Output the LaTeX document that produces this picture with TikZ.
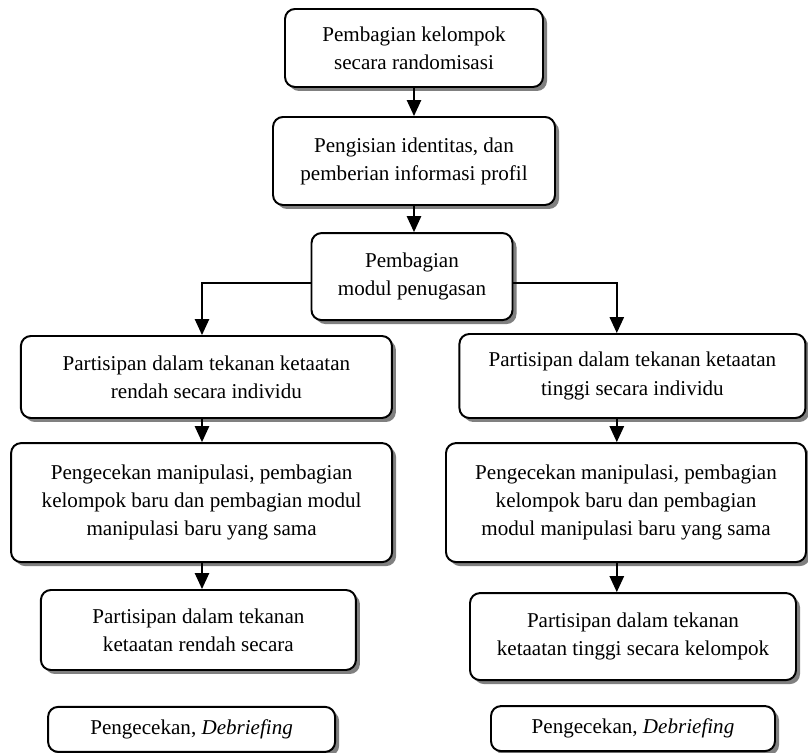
\documentclass[tikz,border=0pt]{standalone}
\usepackage{fontspec}
\setmainfont{Liberation Serif}
\usetikzlibrary{arrows.meta,shadows}
\begin{document}
\begin{tikzpicture}
	\tikzset{kotak/.style={rectangle, rounded corners=0.25cm, line width=1.4pt, draw=black, fill=white, align=center, font=\fontsize{15}{20}\selectfont, drop shadow={shadow xshift=0.1cm, shadow yshift=-0.1cm, fill=black!50, opacity=1}}}
	\tikzset{panah/.style={line width=1pt, -{Triangle[width=0.36cm,length=0.4cm]}}}

	\useasboundingbox (0, 0) rectangle (20.2, 18.825);
	\coordinate (kiri) at (5.05, 0);
	\coordinate (kanan) at (15.42, 0);

	\node[kotak, minimum width=6.45cm, minimum height=1.95cm] at (10.35, 17.625) (a) {Pembagian kelompok\\secara randomisasi};
	\node[kotak, minimum width=7.05cm, minimum height=2.2cm] at (10.35, 14.8) (b) {Pengisian identitas, dan\\pemberian informasi profil};
	\node[kotak, minimum width=5.025cm, minimum height=2.175cm] at (10.3, 11.91) (c) {Pembagian\\modul penugasan};
	\node[kotak, minimum width=9.275cm, minimum height=2.05cm] at (5.16, 9.4) (d) {Partisipan dalam tekanan ketaatan\\rendah secara individu};
	\node[kotak, minimum width=8.65cm, minimum height=2.1cm] at (15.81, 9.425) (e) {Partisipan dalam tekanan ketaatan\\tinggi secara individu};
	\node[kotak, minimum width=9.525cm, minimum height=2.975cm] at (5.04, 6.26) (f) {Pengecekan manipulasi, pembagian\\kelompok baru dan pembagian modul\\manipulasi baru yang sama};
	\node[kotak, minimum width=9.0cm, minimum height=2.975cm] at (15.65, 6.26) (g) {Pengecekan manipulasi, pembagian\\kelompok baru dan pembagian\\modul manipulasi baru yang sama};
	\node[kotak, minimum width=7.875cm, minimum height=2.0cm] at (4.96, 3.075) (h) {Partisipan dalam tekanan\\ketaatan rendah secara};
	\node[kotak, minimum width=8.15cm, minimum height=2.175cm] at (15.825, 2.91) (i) {Partisipan dalam tekanan\\ketaatan tinggi secara kelompok};
	\node[kotak, minimum width=7.175cm, minimum height=1.125cm] at (4.79, 0.59) (j) {Pengecekan, \textit{Debriefing}};
	\node[kotak, minimum width=7.1cm, minimum height=1.125cm] at (15.825, 0.61) (k) {Pengecekan, \textit{Debriefing}};

	\draw [panah] (a.south) -- (a.south |- b.north);
	\draw [panah] (b.south) -- (b.south |- c.north);
	\draw [panah] ([yshift=-0.16cm]c.west) -| (kiri |- d.north);
	\draw [panah] ([yshift=-0.16cm]c.east) -| (kanan |- e.north);
	\draw [panah] (kiri |- d.south) -- (kiri |- f.north);
	\draw [panah] (kanan |- e.south) -- (kanan |- g.north);
	\draw [panah] (kiri |- f.south) -- (kiri |- h.north);
	\draw [panah] (kanan |- g.south) -- (kanan |- i.north);
\end{tikzpicture}
\end{document}
